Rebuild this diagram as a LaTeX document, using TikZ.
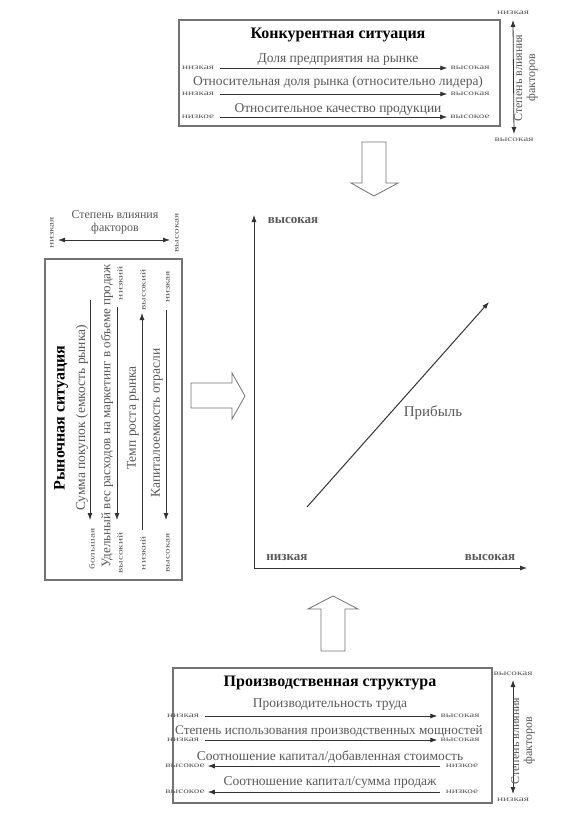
\documentclass[tikz,border=0pt]{standalone}
\usepackage{fontspec}
\setmainfont{Liberation Serif}
\usepackage{graphicx}
\usetikzlibrary{arrows.meta}
\definecolor{txtg}{gray}{0.35}
\definecolor{lineg}{gray}{0.2}
\definecolor{boxg}{gray}{0.45}
\newcommand{\stretchtxt}[1]{\scalebox{1.5}[1]{#1}}
\begin{document}
\begin{tikzpicture}[x=1pt,y=-1pt,
 lbl/.style={font=\fontsize{13.5}{15}\selectfont, text=txtg, inner sep=0pt},
 ttl/.style={font=\fontsize{16}{17}\selectfont\bfseries, inner sep=0pt},
 tiny/.style={font=\fontsize{7.5}{8}\selectfont, text=txtg, inner sep=0pt},
 scl/.style={font=\fontsize{12}{13}\selectfont, text=txtg, inner sep=0pt, align=center},
 ax/.style={font=\fontsize{13}{14}\selectfont\bfseries, text=txtg, inner sep=0pt},
 sarr/.style={-{Latex[length=7pt,width=5pt]}, line width=0.8pt, draw=lineg},
 darr/.style={{Latex[length=7pt,width=5pt]}-{Latex[length=7pt,width=5pt]}, line width=0.8pt, draw=lineg},
 frame/.style={draw=boxg, line width=1.1pt, inner sep=0pt},
 block/.style={draw=boxg, line width=0.8pt, fill=white, line join=miter},
]
\useasboundingbox (0,0) rectangle (585,830);
\fill[white] (0,0) rectangle (585,830);

% ---------- top box ----------
\node[frame, minimum width=321pt, minimum height=106pt] (kbox) at (339.5,73) {};
\node[ttl] (kt) at (338,35) {Конкурентная ситуация};
\node[lbl] (k1) at (338,60) {Доля предприятия на рынке};
\node[tiny] (k1l) at (198,68) {\stretchtxt{низкая}};
\node[tiny] (k1h) at (470,68) {\stretchtxt{высокая}};
\draw[sarr] ([xshift=6pt]k1l.east) -- ([xshift=-3pt]k1h.west);
\node[lbl] (k2) at (338,82) {Относительная доля рынка (относительно лидера)};
\node[tiny] (k2l) at (198,94) {\stretchtxt{низкая}};
\node[tiny] (k2h) at (470,94) {\stretchtxt{высокая}};
\draw[sarr] ([xshift=6pt]k2l.east) -- ([xshift=-3pt]k2h.west);
\node[lbl] (k3) at (338,109) {Относительное качество продукции};
\node[tiny] (k3l) at (198,117) {\stretchtxt{низкое}};
\node[tiny] (k3h) at (470,117) {\stretchtxt{высокое}};
\draw[sarr] ([xshift=6pt]k3l.east) -- ([xshift=-3pt]k3h.west);

% top right scale
\node[tiny] (tslo) at (513,13) {\stretchtxt{низкая}};
\node[tiny] (tshi) at (514,140) {\stretchtxt{высокая}};
\draw[darr] ([yshift=-5pt]tslo.south) -- ([yshift=4pt]tshi.north);
\node[scl, rotate=90] (tst) at (526,78) {Степень влияния\\факторов};

% down block arrow
\draw[block] (362,142) -- (386,142) -- (386,183) -- (398,183) -- (374,196) -- (351,183) -- (362,183) -- cycle;

% ---------- chart ----------
\coordinate (O) at (254,568);
\coordinate (Yt) at (254,215);
\coordinate (Xt) at (527,568);
\draw[sarr] (O) -- (Yt);
\draw[sarr] (O) -- (Xt);
\coordinate (P0) at (307,507);
\coordinate (P1) at (489,302);
\draw[sarr, line width=1pt] (P0) -- (P1);
\node[ax] (yhi) at (293,220) {высокая};
\node[ax] (xlo) at (287,557) {низкая};
\node[ax] (xhi) at (490,557) {высокая};
\node[font=\fontsize{15}{16}\selectfont, text=txtg, inner sep=0pt] (prib) at (433,413) {Прибыль};

% right block arrow
\draw[block] (191,383) -- (232,383) -- (232,373) -- (245,396) -- (232,419) -- (232,408) -- (191,408) -- cycle;
% up block arrow
\draw[block] (321,651) -- (321,609) -- (308,609) -- (333,596) -- (358,609) -- (345,609) -- (345,651) -- cycle;

% ---------- left box ----------
\node[scl] (lst) at (115,222) {Степень влияния\\факторов};
\node[tiny, rotate=90] (lslo) at (52,233) {\stretchtxt{низкая}};
\node[tiny, rotate=90] (lshi) at (177,233) {\stretchtxt{высокая}};
\coordinate (lsa) at (58,240);
\coordinate (lsb) at (170,240);
\draw[darr] (lsa) -- (lsb);

\node[frame, minimum width=137pt, minimum height=321pt] (rbox) at (113.5,419.5) {};
\node[ttl, rotate=90] (rt) at (61,418) {Рыночная ситуация};
% col 1
\node[lbl, rotate=90] (r1) at (82,418) {Сумма покупок (емкость рынка)};
\coordinate (c1a) at (90,300);
\coordinate (c1b) at (90,520);
\draw[sarr] (c1a) -- (c1b);
\node[tiny, rotate=90] (c1hi) at (92,549) {\stretchtxt{большая}};
% col 2
\node[lbl, rotate=90, font=\fontsize{13.1}{15}\selectfont] (r2) at (107,416) {Удельный вес расходов на маркетинг в объеме продаж};
\coordinate (c2a) at (117,307);
\coordinate (c2b) at (117,520);
\draw[sarr] (c2a) -- (c2b);
\node[tiny, rotate=90] (c2lo) at (120,283) {\stretchtxt{низкий}};
\node[tiny, rotate=90] (c2hi) at (120,553) {\stretchtxt{высокий}};
% col 3
\node[lbl, rotate=90] (r3) at (133,418) {Темп роста рынка};
\coordinate (c3a) at (142,530);
\coordinate (c3b) at (142,313);
\draw[sarr] (c3a) -- (c3b);
\node[tiny, rotate=90] (c3lo) at (143,553) {\stretchtxt{низкий}};
\node[tiny, rotate=90] (c3hi) at (143,290) {\stretchtxt{высокий}};
% col 4
\node[lbl, rotate=90] (r4) at (157,423) {Капиталоемкость отрасли};
\coordinate (c4a) at (166,310);
\coordinate (c4b) at (166,520);
\draw[sarr] (c4a) -- (c4b);
\node[tiny, rotate=90] (c4lo) at (168,287) {\stretchtxt{низкая}};
\node[tiny, rotate=90] (c4hi) at (168,553) {\stretchtxt{высокая}};

% ---------- bottom box ----------
\node[frame, minimum width=319pt, minimum height=135pt] (pbox) at (332.5,735.5) {};
\node[ttl] (pt) at (330,683) {Производственная структура};
\node[lbl] (p1) at (330,705) {Производительность труда};
\node[tiny] (p1l) at (183,716) {\stretchtxt{низкая}};
\node[tiny] (p1h) at (460,716) {\stretchtxt{высокая}};
\draw[sarr] ([xshift=6pt]p1l.east) -- ([xshift=-3pt]p1h.west);
\node[lbl, font=\fontsize{13.2}{15}\selectfont] (p2) at (329,731) {Степень использования производственных мощностей};
\node[tiny] (p2l) at (183,740) {\stretchtxt{низкая}};
\node[tiny] (p2h) at (460,740) {\stretchtxt{высокая}};
\draw[sarr] ([xshift=6pt]p2l.east) -- ([xshift=-3pt]p2h.west);
\node[lbl] (p3) at (330,757) {Соотношение капитал/добавленная стоимость};
\node[tiny] (p3l) at (185,766) {\stretchtxt{высокое}};
\node[tiny] (p3h) at (462,766) {\stretchtxt{низкое}};
\draw[sarr] ([xshift=-6pt]p3h.west) -- ([xshift=3pt]p3l.east);
\node[lbl] (p4) at (330,782) {Соотношение капитал/сумма продаж};
\node[tiny] (p4l) at (185,792) {\stretchtxt{высокое}};
\node[tiny] (p4h) at (462,792) {\stretchtxt{низкое}};
\draw[sarr] ([xshift=-6pt]p4h.west) -- ([xshift=3pt]p4l.east);

% bottom right scale
\node[tiny] (bshi) at (513,674) {\stretchtxt{высокая}};
\node[tiny] (bslo) at (513,800) {\stretchtxt{низкая}};
\draw[darr] ([yshift=-4pt]bshi.south) -- ([yshift=4pt]bslo.north);
\node[scl, rotate=90] (bst) at (523,741) {Степень влияния\\факторов};
\end{tikzpicture}
\end{document}
